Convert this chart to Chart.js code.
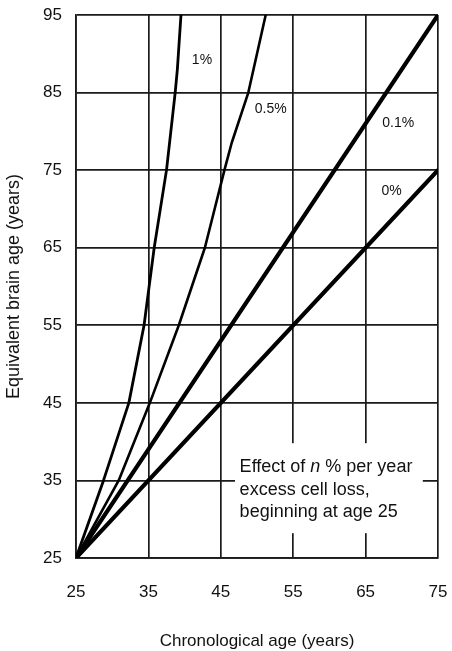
<!DOCTYPE html>
<html>
<head>
<meta charset="utf-8">
<script src="https://cdn.jsdelivr.net/npm/chart.js@4/dist/chart.umd.min.js"></script>
<style>
  html, body { margin: 0; padding: 0; background: #fff; }
  #wrap { position: relative; width: 452px; height: 651px; }
</style>
</head>
<body>
<div id="wrap"><canvas id="c"></canvas></div>
<script>
// Axis ticks
const ageTicks = [25, 35, 45, 55, 65, 75];
const brainTicks = [25, 35, 45, 55, 65, 75, 85, 95];

// Curves: chronological age vs equivalent brain age for each excess loss rate
const seriesLabels = ['0%', '0.1%', '0.5%', '1%'];
const loss0Age = [25, 75];
const loss0Brain = [25, 75];
const loss01Age = [25, 75];
const loss01Brain = [25, 95];
const loss05Age = [25, 30.9, 35.2, 39.2, 42.8, 45.5, 46.5, 48.8, 51.2];
const loss05Brain = [25, 35, 45, 55, 65, 75, 78.5, 85, 95];
const loss1Age = [25, 28.8, 32.3, 34.4, 35.8, 37.5, 38.7, 39.0, 39.5];
const loss1Brain = [25, 35, 45, 55, 65, 75, 85, 88, 95];

const FONT = '"Liberation Sans", Arial, Helvetica, sans-serif';
const INK = '#111';

function pairs(xs, ys) {
  return xs.map((x, i) => ({ x: x, y: ys[i] }));
}

function lineSet(label, xs, ys, width) {
  return {
    label: label,
    data: pairs(xs, ys),
    showLine: true,
    borderColor: '#000',
    backgroundColor: '#000',
    borderWidth: width,
    pointRadius: 0,
    tension: 0,
    borderCapStyle: 'round',
    borderJoinStyle: 'round'
  };
}

// Rate labels next to each curve and the explanatory note
const annotations = {
  id: 'annotations',
  afterDraw(chart) {
    const ctx = chart.ctx;
    const xs = chart.scales.x;
    const ys = chart.scales.y;
    ctx.save();

    // note box, white background hides the grid behind it
    const bx0 = xs.getPixelForValue(46.96), bx1 = xs.getPixelForValue(72.9);
    const by0 = ys.getPixelForValue(39.8), by1 = ys.getPixelForValue(28.2);
    ctx.fillStyle = '#fff';
    ctx.fillRect(bx0, by0, bx1 - bx0, by1 - by0);

    ctx.fillStyle = INK;
    ctx.textBaseline = 'middle';
    ctx.textAlign = 'left';
    const tx = xs.getPixelForValue(47.6);
    const ty = ys.getPixelForValue(36.7);
    const lh = 22.5;
    ctx.font = '18px ' + FONT;
    let cx = tx;
    ctx.fillText('Effect of ', cx, ty);
    cx += ctx.measureText('Effect of ').width;
    ctx.font = 'italic 18px ' + FONT;
    ctx.fillText('n', cx, ty);
    cx += ctx.measureText('n').width;
    ctx.font = '18px ' + FONT;
    ctx.fillText(' % per year', cx, ty);
    ctx.fillText('excess cell loss,', tx, ty + lh);
    ctx.fillText('beginning at age 25', tx, ty + 2 * lh);

    // curve labels
    ctx.font = '14px ' + FONT;
    ctx.textAlign = 'center';
    const spots = [[68.6, 72.3], [69.5, 81.1], [51.9, 82.8], [42.4, 89.2]];
    seriesLabels.forEach((t, i) => {
      ctx.fillText(t, xs.getPixelForValue(spots[i][0]), ys.getPixelForValue(spots[i][1]));
    });
    ctx.restore();
  }
};

const gridStyle = {
  color: '#1a1a1a',
  lineWidth: 1.7,
  drawTicks: false
};

// keep the plot frame fixed: no extra room reserved for overhanging tick labels
function fixPadding(scale) {
  scale.paddingLeft = 0;
  scale.paddingRight = 0;
  scale.paddingTop = 0;
  scale.paddingBottom = 0;
}

new Chart(document.getElementById('c'), {
  type: 'scatter',
  data: {
    datasets: [
      lineSet(seriesLabels[0], loss0Age, loss0Brain, 4.2),
      lineSet(seriesLabels[1], loss01Age, loss01Brain, 4.2),
      lineSet(seriesLabels[2], loss05Age, loss05Brain, 2.6),
      lineSet(seriesLabels[3], loss1Age, loss1Brain, 2.8)
    ]
  },
  options: {
    responsive: true,
    maintainAspectRatio: false,
    animation: false,
    devicePixelRatio: 1,
    layout: { padding: { top: 15, right: 14, left: 0, bottom: 0 } },
    plugins: {
      legend: { display: false },
      tooltip: { enabled: false }
    },
    scales: {
      x: {
        type: 'linear',
        min: ageTicks[0],
        max: ageTicks[ageTicks.length - 1],
        afterBuildTicks(scale) { scale.ticks = ageTicks.map(v => ({ value: v })); },
        afterFit(scale) { scale.height = 93; fixPadding(scale); },
        grid: gridStyle,
        border: { display: true, color: '#1a1a1a', width: 1.7 },
        ticks: {
          color: INK,
          padding: 24,
          maxRotation: 0,
          font: { family: FONT, size: 17 }
        },
        title: {
          display: true,
          text: 'Chronological age (years)',
          color: INK,
          padding: { top: 0, bottom: 0 },
          font: { family: FONT, size: 17, lineHeight: 1.1 }
        }
      },
      y: {
        type: 'linear',
        min: brainTicks[0],
        max: brainTicks[brainTicks.length - 1],
        afterBuildTicks(scale) { scale.ticks = brainTicks.map(v => ({ value: v })); },
        afterFit(scale) { scale.width = 76; fixPadding(scale); },
        grid: gridStyle,
        border: { display: true, color: '#1a1a1a', width: 1.7 },
        ticks: {
          color: INK,
          padding: 14,
          font: { family: FONT, size: 17 }
        },
        title: {
          display: true,
          text: 'Equivalent brain age (years)',
          color: INK,
          padding: { top: 3, bottom: 0 },
          font: { family: FONT, size: 18, lineHeight: 1.2 }
        }
      }
    }
  },
  plugins: [annotations]
});
</script>
</body>
</html>
